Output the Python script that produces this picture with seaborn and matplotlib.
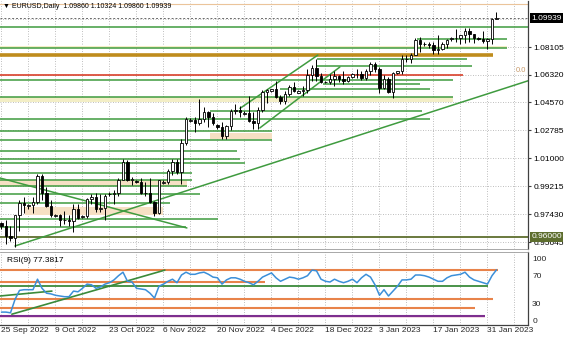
import matplotlib
matplotlib.use("Agg")
import matplotlib.pyplot as plt
import numpy as np
import pandas as pd
import seaborn as sns

sns.set_style("white")
plt.rcParams['font.family'] = ['Liberation Sans', 'DejaVu Sans']

# ---------------- data ----------------
opens = [0.9685, 0.9670, 0.9607, 0.9593, 0.9736, 0.9815, 0.9795, 0.9800, 0.9824, 0.9986,
         0.9882, 0.9794, 0.9735, 0.9738, 0.9704, 0.9705, 0.9702, 0.9779, 0.9725, 0.9735,
         0.9840, 0.9856, 0.9776, 0.9781, 0.9870, 0.9875, 0.9876, 0.9965, 1.0078, 0.9963,
         0.9955, 0.9950, 0.9882, 0.9877, 0.9820, 0.9751, 0.9945, 0.9950, 1.0021, 1.0074,
         1.0013, 1.0201, 1.0340, 1.0345, 1.0328, 1.0349, 1.0393, 1.0363, 1.0310, 1.0300,
         1.0242, 1.0304, 1.0404, 1.0406, 1.0385, 1.0390, 1.0338, 1.0327, 1.0406, 1.0523,
         1.0530, 1.0540, 1.0491, 1.0466, 1.0508, 1.0555, 1.0520, 1.0530, 1.0538, 1.0630,
         1.0679, 1.0625, 1.0585, 1.0590, 1.0608, 1.0623, 1.0605, 1.0594, 1.0616, 1.0640,
         1.0640, 1.0611, 1.0660, 1.0705, 1.0667, 1.0546, 1.0606, 1.0521, 1.0645, 1.0655,
         1.0733, 1.0733, 1.0762, 1.0852, 1.0830, 1.0830, 1.0821, 1.0789, 1.0795, 1.0830,
         1.0860, 1.0865, 1.0871, 1.0885, 1.0915, 1.0891, 1.0865, 1.0860, 1.0846, 1.0863,
         1.0986]
highs = [0.9695, 0.9709, 0.9669, 0.9740, 0.9837, 0.9853, 0.9810, 0.9853, 0.9999, 0.9999,
         0.9920, 0.9835, 0.9745, 0.9748, 0.9766, 0.9736, 0.9807, 0.9809, 0.9740, 0.9850,
         0.9875, 0.9876, 0.9874, 0.9870, 0.9885, 0.9900, 0.9977, 1.0094, 1.0088, 0.9979,
         0.9965, 0.9975, 0.9952, 0.9976, 0.9830, 0.9964, 0.9960, 1.0033, 1.0095, 1.0094,
         1.0222, 1.0364, 1.0355, 1.0367, 1.0481, 1.0425, 1.0400, 1.0388, 1.0320, 1.0335,
         1.0315, 1.0412, 1.0448, 1.0432, 1.0400, 1.0497, 1.0394, 1.0429, 1.0533, 1.0545,
         1.0545, 1.0595, 1.0506, 1.0530, 1.0566, 1.0590, 1.0535, 1.0562, 1.0673, 1.0695,
         1.0736, 1.0645, 1.0595, 1.0637, 1.0657, 1.0632, 1.0659, 1.0628, 1.0645, 1.0672,
         1.0660, 1.0670, 1.0714, 1.0713, 1.0684, 1.0629, 1.0622, 1.0653, 1.0660, 1.0760,
         1.0760, 1.0775, 1.0868, 1.0874, 1.0840, 1.0842, 1.0845, 1.0887, 1.0843, 1.0860,
         1.0875, 1.0927, 1.0889, 1.0929, 1.0930, 1.0895, 1.0875, 1.0915, 1.0868, 1.0993,
         1.1032]
lows = [0.9650, 0.9553, 0.9570, 0.9536, 0.9636, 0.9749, 0.9780, 0.9750, 0.9809, 0.9835,
        0.9788, 0.9729, 0.9725, 0.9670, 0.9684, 0.9669, 0.9632, 0.9710, 0.9720, 0.9720,
        0.9808, 0.9756, 0.9760, 0.9705, 0.9860, 0.9810, 0.9860, 0.9960, 0.9954, 0.9929,
        0.9945, 0.9872, 0.9862, 0.9813, 0.9730, 0.9747, 0.9935, 0.9935, 0.9997, 1.0003,
        0.9935, 1.0187, 1.0330, 1.0271, 1.0315, 1.0334, 1.0300, 1.0316, 1.0290, 1.0223,
        1.0226, 1.0280, 1.0386, 1.0362, 1.0375, 1.0330, 1.0290, 1.0289, 1.0396, 1.0455,
        1.0525, 1.0485, 1.0444, 1.0445, 1.0499, 1.0523, 1.0515, 1.0500, 1.0520, 1.0592,
        1.0592, 1.0583, 1.0580, 1.0575, 1.0563, 1.0585, 1.0573, 1.0588, 1.0610, 1.0613,
        1.0600, 1.0600, 1.0635, 1.0650, 1.0519, 1.0540, 1.0515, 1.0483, 1.0640, 1.0640,
        1.0713, 1.0710, 1.0760, 1.0780, 1.0820, 1.0805, 1.0766, 1.0766, 1.0790, 1.0805,
        1.0850, 1.0845, 1.0832, 1.0835, 1.0845, 1.0836, 1.0855, 1.0837, 1.0800, 1.0830,
        1.0986]
closes = [0.9670, 0.9607, 0.9593, 0.9736, 0.9815, 0.9802, 0.9800, 0.9824, 0.9986, 0.9882,
          0.9794, 0.9741, 0.9738, 0.9704, 0.9705, 0.9702, 0.9779, 0.9722, 0.9735, 0.9840,
          0.9856, 0.9776, 0.9781, 0.9860, 0.9875, 0.9876, 0.9965, 1.0078, 0.9963, 0.9966,
          0.9950, 0.9882, 0.9877, 0.9820, 0.9751, 0.9959, 0.9950, 1.0021, 1.0074, 1.0013,
          1.0201, 1.0353, 1.0345, 1.0328, 1.0349, 1.0393, 1.0363, 1.0323, 1.0300, 1.0242,
          1.0304, 1.0404, 1.0406, 1.0397, 1.0390, 1.0338, 1.0327, 1.0406, 1.0523, 1.0536,
          1.0540, 1.0491, 1.0466, 1.0508, 1.0555, 1.0529, 1.0530, 1.0538, 1.0630, 1.0679,
          1.0625, 1.0585, 1.0590, 1.0608, 1.0623, 1.0605, 1.0594, 1.0616, 1.0640, 1.0640,
          1.0611, 1.0660, 1.0705, 1.0667, 1.0546, 1.0606, 1.0521, 1.0645, 1.0655, 1.0733,
          1.0733, 1.0762, 1.0852, 1.0832, 1.0830, 1.0821, 1.0789, 1.0795, 1.0830, 1.0855,
          1.0865, 1.0871, 1.0885, 1.0915, 1.0891, 1.0870, 1.0860, 1.0846, 1.0863, 1.0986,
          1.09939]
rsi = [17, 17, 16, 35, 48, 49, 49, 49, 64, 51,
       44, 43, 41, 40, 39, 39, 47, 46, 51, 57,
       56, 51, 53, 57, 59, 63, 69, 74, 61, 60,
       51, 50, 49, 44, 37, 54, 57, 61, 64, 59,
       70, 74, 71, 71, 73, 74, 71, 67, 66, 57,
       63, 66, 66, 64, 61, 59, 56, 61, 67, 70,
       73, 66, 61, 64, 67, 66, 64, 66, 69, 77,
       76, 64, 61, 60, 64, 61, 59, 61, 64, 59,
       66, 71, 67, 56, 41, 49, 40, 47, 54, 63,
       63, 64, 70, 70, 69, 67, 64, 61, 61, 66,
       69, 70, 71, 74, 67, 63, 61, 59, 57, 69,
       77.3817]
date_tick_bars = [0, 12, 24, 36, 48, 60, 72, 84, 96, 108]
date_tick_labels = ['25 Sep 2022', '9 Oct 2022', '23 Oct 2022', '6 Nov 2022', '20 Nov 2022',
                    '4 Dec 2022', '18 Dec 2022', '3 Jan 2023', '17 Jan 2023', '31 Jan 2023']
price_ticks = [0.95645, 0.97430, 0.99215, 1.01000, 1.02785, 1.04570, 1.06320, 1.08105]
price_tick_labels = ['0.95645', '0.97430', '0.99215', '1.01000', '1.02785', '1.04570', '1.06320', '1.08105']
last_price = 1.09939
support_price = 0.96000

bars = np.arange(len(closes))
df = pd.DataFrame({'bar': bars, 'open': opens, 'high': highs, 'low': lows,
                   'close': closes, 'rsi': rsi})

# ---------------- figure ----------------
W, H = 564, 338
fig = plt.figure(figsize=(W / 100, H / 100), dpi=100)
ax = fig.add_axes([0, 1 - 249 / H, 528 / W, 248 / H])
ax2 = fig.add_axes([0, 1 - 325 / H, 528 / W, 73 / H])

GREEN = '#3f9b3f'
GOLD = '#bf8c1c'
RED = '#d9412b'
OLIVE = '#5e6e2e'
YELLOWBAND = '#f3eec6'
TANBAND = '#f6e0c4'
ORANGE = '#e8834a'
PURPLE = '#7d2f8f'

# horizontal drawn objects on the price chart: (price, from bar, to bar, colour, width)
hlines = [
    (1.0938, -1, 118, GREEN, 1.1), (1.0862, 92.3, 112.3, GREEN, 1.1),
    (1.0804, -1, 112.3, GREEN, 1.1), (1.0759, -1, 109.2, GOLD, 2.6),
    (1.0734, 70.1, 103.4, GREEN, 1.1), (1.0689, 70.1, 104.6, GREEN, 1.1),
    (1.0632, -1, 102.6, RED, 1.2), (1.0600, -1, 100.3, GREEN, 1.1),
    (1.0574, 71.4, 93.0, GREEN, 1.1), (1.0543, 62, 95.2, GREEN, 1.1),
    (1.0491, -1, 100.3, GREEN, 1.1), (1.0402, 46.3, 93.4, GREEN, 1.1),
    (1.0351, -1, 95.2, GREEN, 1.1), (1.0275, -1, 60.1, GREEN, 1.1),
    (1.0217, -1, 60.1, GREEN, 1.1), (1.0147, -1, 52.3, GREEN, 1.1),
    (1.0096, -1, 53.0, GREEN, 1.1), (1.0070, -1, 54.1, GREEN, 1.1),
    (1.0007, -1, 42.3, GREEN, 1.1), (0.9962, -1, 42.3, GREEN, 1.1),
    (0.9924, -1, 41.2, GREEN, 1.1), (0.9873, -1, 44.1, GREEN, 1.1),
    (0.9815, -1, 37.4, GREEN, 1.1), (0.9713, -1, 48.1, GREEN, 1.1),
    (0.9662, -1, 41.0, GREEN, 1.1), (support_price, -1, 118, OLIVE, 1.3),
    (1.1085, -1, 118, '#ebc49a', 0.8),
]
bands = [
    (1.0816, 1.0802, -1, 112.3, YELLOWBAND), (1.0491, 1.0460, -1, 100.3, YELLOWBAND),
    (1.0262, 1.0224, 46.3, 60.1, TANBAND), (0.9962, 0.9924, -1, 41.2, TANBAND),
    (0.9790, 0.9739, 5.2, 35.9, TANBAND),
]
trendlines = [
    ((3.0, 0.9541), (118.0, 1.0604)),
    ((-0.5, 0.9976), (41.2, 0.9656)),
    ((53.0, 1.0419), (70.3, 1.0759)),
    ((57.4, 1.0294), (75.2, 1.0683)),
]

for top, bot, b0, b1, col in bands:
    ax.fill_between([b0, b1], bot, top, color=col, lw=0, zorder=1)
for p, b0, b1, col, lw in hlines:
    ax.plot([b0, b1], [p, p], color=col, lw=lw, zorder=2, solid_capstyle='butt')
for (b0, p0), (b1, p1) in trendlines:
    ax.plot([b0, b1], [p0, p1], color=GREEN, lw=1.1, zorder=2)

# grid
ax.set_xlim(-0.333, 117.0)
ax.set_ylim(0.95217, 1.11040)
ax.set_yticks(price_ticks, labels=price_tick_labels)
ax.set_xticks(np.arange(0, 118, 6))
ax.set_xticklabels([])
ax.grid(True, which='major', linestyle=(0, (1, 2)), color='#a8a8a8', lw=0.6, zorder=0)
ax.axhline(1.09890, linestyle=(0, (1, 2)), color='#a8a8a8', lw=0.6, zorder=0)
ax.axhline(last_price, linestyle=(0, (2, 2)), color='#6a6a6a', lw=0.7, zorder=3)

# candles
up = df['close'] >= df['open']
ax.vlines(df['bar'], df['low'], df['high'], color='black', lw=0.7, zorder=4)
body_lo = np.minimum(df['open'], df['close'])
body_h = np.maximum(np.abs(df['close'] - df['open']), 0.00012)
ax.bar(df['bar'][up], body_h[up], bottom=body_lo[up], width=0.62,
       color='white', edgecolor='black', linewidth=0.6, zorder=5)
ax.bar(df['bar'][~up], body_h[~up], bottom=body_lo[~up], width=0.62,
       color='black', edgecolor='black', linewidth=0.6, zorder=5)

ax.yaxis.tick_right()
ax.tick_params(axis='y', labelsize=6, pad=2, length=2, color='#404040', labelcolor='black')
ax.tick_params(axis='x', length=0)
for s in ['left', 'top']:
    ax.spines[s].set_visible(False)
ax.spines['right'].set_color('#404040')
ax.spines['right'].set_linewidth(0.9)
ax.spines['bottom'].set_color('#9a9a9a')
ax.spines['bottom'].set_linewidth(0.6)

ytr = ax.get_yaxis_transform()
ax.text(1.006, last_price, '1.09939', transform=ytr, ha='left', va='center', fontsize=6,
        color='white', bbox=dict(facecolor='black', edgecolor='none', pad=1.2), zorder=10)
ax.text(1.006, support_price, '0.96000', transform=ytr, ha='left', va='center', fontsize=6,
        color='white', bbox=dict(facecolor=OLIVE, edgecolor='none', pad=1.2), zorder=10,
        clip_on=False)
ax.text(116.6, 1.0640, '0.0', ha='right', va='bottom', fontsize=5.5, color='#c89a6a', zorder=6)
fig.text(3 / W, 1 - 6 / H, '\u25bc EURUSD,Daily  1.09860 1.10324 1.09860 1.09939',
         fontsize=5.0, va='center', ha='left', color='black')

# ---------------- RSI panel ----------------
rsi_levels = [
    (77, -1, 110.3, ORANGE, 1.5), (60, -1, 58.6, ORANGE, 1.5),
    (54, -1, 108.1, '#3a8a3a', 1.3), (36, -1, 109.2, ORANGE, 1.5),
    (23, -1, 105.2, ORANGE, 1.5), (11, -1, 107.4, PURPLE, 1.5),
]
ax2.fill_between([-1, 107.4], 8.5, 13.5, color='#f8dde8', lw=0, zorder=1)
for v, b0, b1, col, lw in rsi_levels:
    ax2.plot([b0, b1], [v, v], color=col, lw=lw, zorder=2, solid_capstyle='butt')
ax2.plot([-0.33, 11.2], [40, 47], color='#3a8a3a', lw=1.2, zorder=2)
ax2.plot([2.3, 36.3], [14, 77], color='#3a8a3a', lw=1.2, zorder=2)
sns.lineplot(data=df, x='bar', y='rsi', ax=ax2, color='#3b8fd9', lw=1.1, zorder=4)

ax2.set_xlim(-0.333, 117.0)
ax2.set_ylim(-1.43, 102.86)
ax2.set_xticks(date_tick_bars, labels=date_tick_labels)
ax2.set_xticks(np.arange(6, 118, 12), minor=True)
ax2.grid(True, axis='x', which='both', linestyle=(0, (1, 2)), color='#a8a8a8', lw=0.6, zorder=0)
for lab in ax2.get_xticklabels():
    lab.set_ha('left')
ax2.tick_params(axis='x', which='both', labelsize=6, pad=1.5, length=0)
ax2.set_yticks([5.7, 29.6, 70, 93.9], labels=['0', '30', '70', '100'])
ax2.yaxis.tick_right()
ax2.tick_params(axis='y', labelsize=6, pad=3, length=0)
ax2.set_xlabel('')
ax2.set_ylabel('')
ax2.spines['left'].set_visible(False)
ax2.spines['top'].set_color('#9a9a9a')
ax2.spines['top'].set_linewidth(0.6)
for s in ['right', 'bottom']:
    ax2.spines[s].set_color('#404040')
    ax2.spines[s].set_linewidth(0.9)
ax2.text(1.2, 96, 'RSI(9) 77.3817', fontsize=6, va='top', ha='left', color='black')

fig.savefig('out.png', dpi=100)
